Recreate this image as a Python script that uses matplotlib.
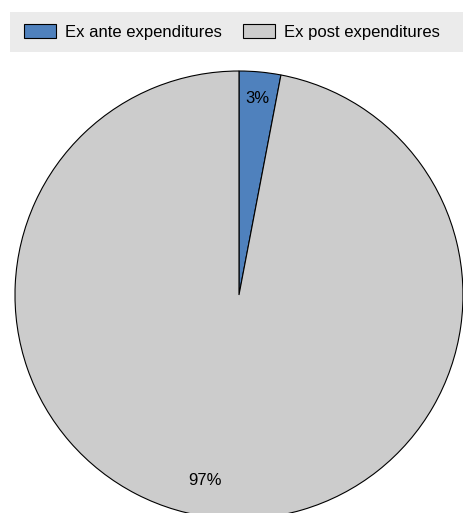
import matplotlib
matplotlib.use('Agg')
import matplotlib.pyplot as plt
from matplotlib.patches import Rectangle, Patch

# データ
labels = ['Ex ante expenditures', 'Ex post expenditures']
shares = [3, 97]
colors = ['#4f81bd', '#cccccc']

plt.rcParams['font.family'] = ['Liberation Sans', 'DejaVu Sans']

fig = plt.figure(figsize=(4.64, 5.13), dpi=100)
fig.patch.set_facecolor('white')

# 凡例の背景
fig.patches.append(Rectangle((0.0216, 0.8986), 0.978, 0.078,
                             transform=fig.transFigure, facecolor='#ebebeb',
                             edgecolor='none', zorder=0))

ax = fig.add_axes([0.0323, -0.0117, 0.9655, 0.8733])
wedges, texts, autotexts = ax.pie(
    shares, colors=colors, startangle=90, counterclock=False,
    autopct='%d%%', pctdistance=0.88,
    wedgeprops=dict(edgecolor='black', linewidth=0.8),
    textprops=dict(fontsize=12, color='black'))
# 97%ラベルは少し内側・左寄り
autotexts[1].set_position((-0.15, -0.83))
ax.set_xlim(-1, 1)
ax.set_ylim(-1, 1)
ax.set_aspect('equal')

handles = [Patch(facecolor=c, edgecolor='black', linewidth=0.8) for c in colors]
fig.legend(handles, labels, loc='center', bbox_to_anchor=(0.5, 0.9376),
           ncol=2, frameon=False, fontsize=12, handlelength=1.9,
           handleheight=0.85, handletextpad=0.55, columnspacing=1.3)

fig.savefig('out.png', dpi=100)
